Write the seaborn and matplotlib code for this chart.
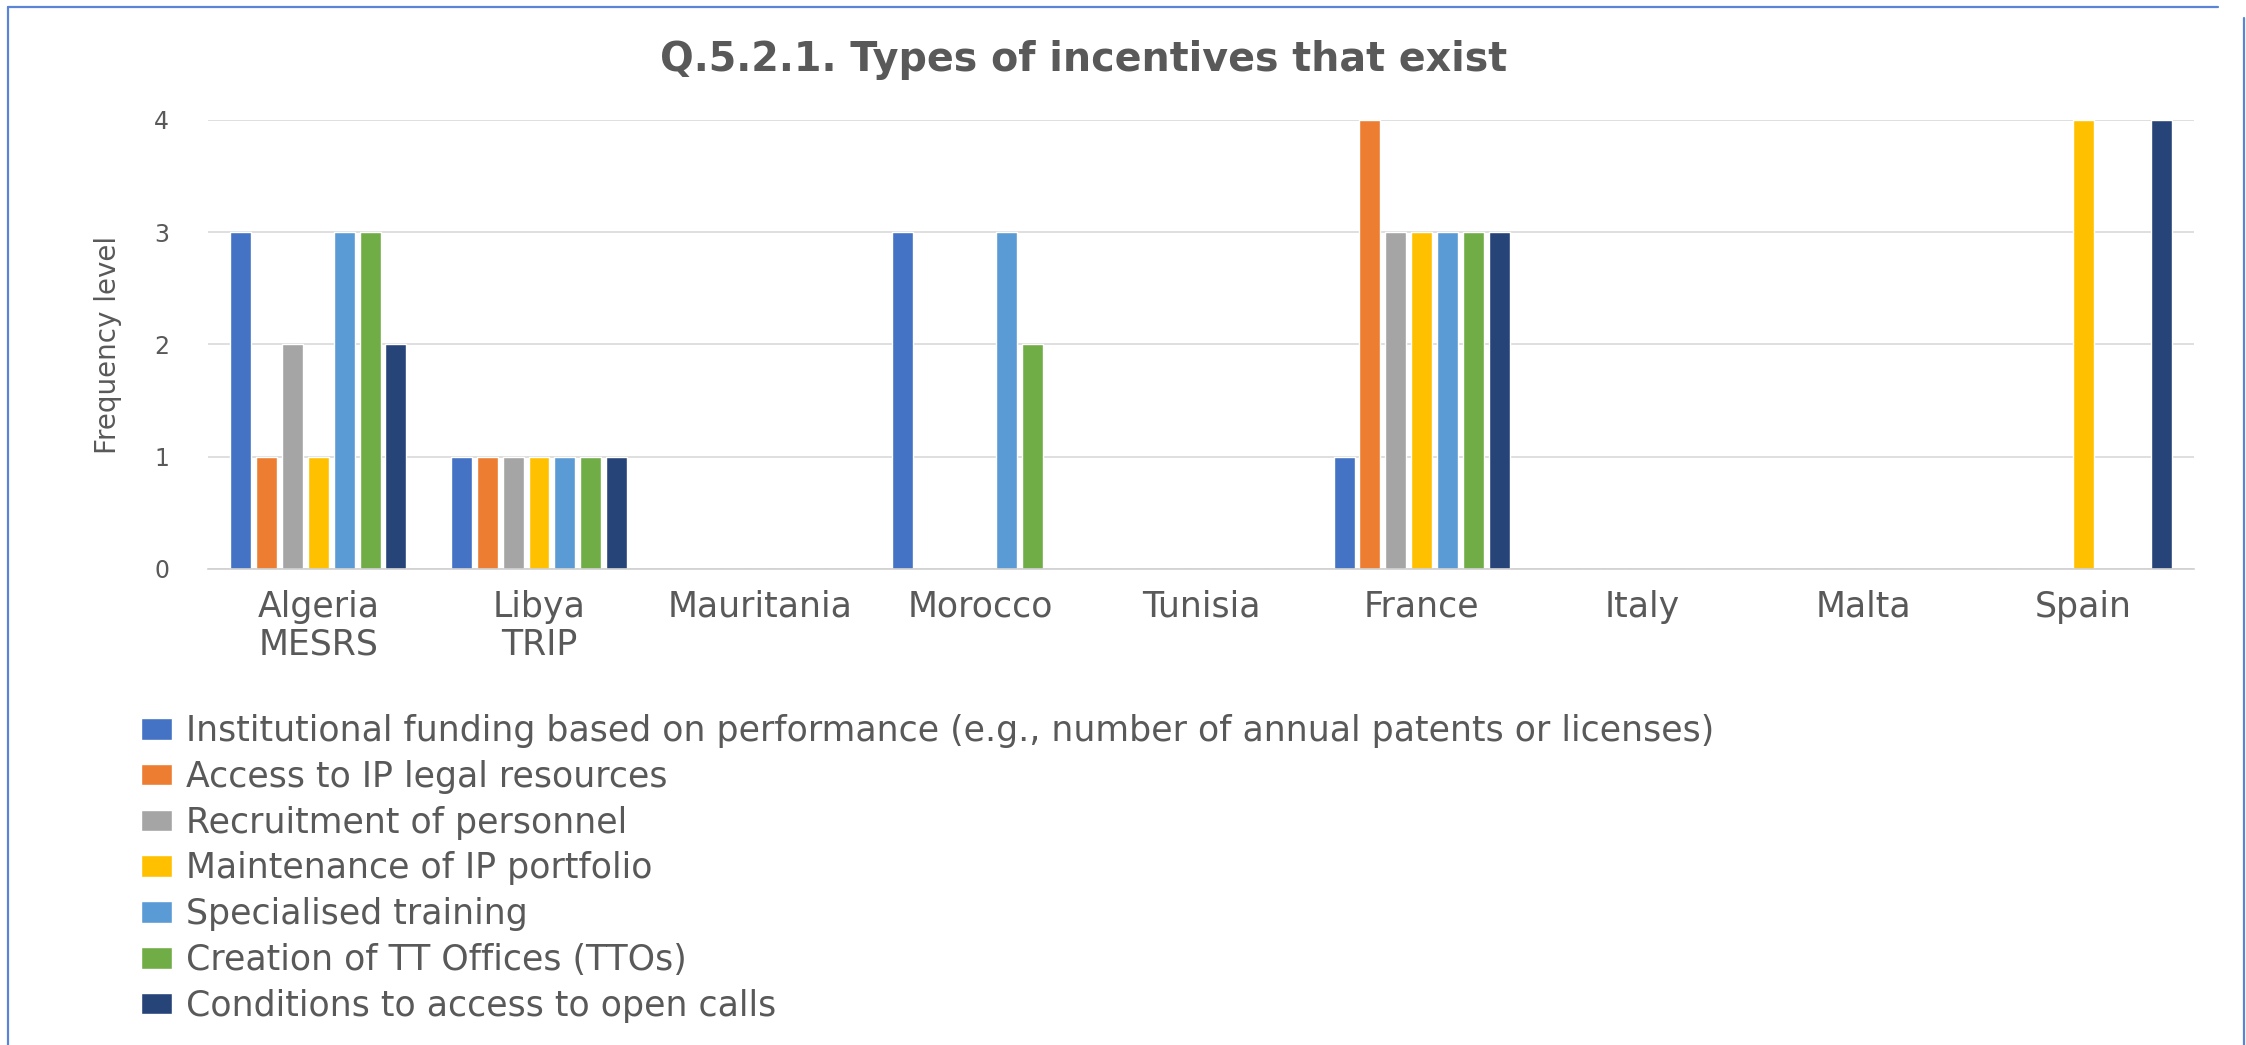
import pandas as pd
import seaborn as sns
import matplotlib.pyplot as plt
from matplotlib.lines import Line2D

# Data
countries = ["Algeria\nMESRS", "Libya\nTRIP", "Mauritania", "Morocco", "Tunisia",
             "France", "Italy", "Malta", "Spain"]
incentives = [
    "Institutional funding based on performance (e.g., number of annual patents or licenses)",
    "Access to IP legal resources",
    "Recruitment of personnel",
    "Maintenance of IP portfolio",
    "Specialised training",
    "Creation of TT Offices (TTOs)",
    "Conditions to access to open calls",
]
funding = [3, 1, 0, 3, 0, 1, 0, 0, 0]
ip_legal = [1, 1, 0, 0, 0, 4, 0, 0, 0]
recruitment = [2, 1, 0, 0, 0, 3, 0, 0, 0]
maintenance = [1, 1, 0, 0, 0, 3, 0, 0, 4]
training = [3, 1, 0, 3, 0, 3, 0, 0, 0]
ttos = [3, 1, 0, 2, 0, 3, 0, 0, 0]
open_calls = [2, 1, 0, 0, 0, 3, 0, 0, 4]
colors = ["#4472C4", "#ED7D31", "#A5A5A5", "#FFC000", "#5B9BD5", "#70AD47", "#264478"]

series = [funding, ip_legal, recruitment, maintenance, training, ttos, open_calls]
rows = []
for name, vals in zip(incentives, series):
    for c, v in zip(countries, vals):
        rows.append({"country": c, "incentive": name, "level": v})
df = pd.DataFrame(rows)

sns.set_style("white")
plt.rcParams["font.family"] = ["DejaVu Sans"]
gray = "#595959"

W, H = 2246, 1045
fig = plt.figure(figsize=(W / 100, H / 100), dpi=100)
ax = fig.add_axes([208 / W, 1 - 569 / H, (2194 - 208) / W, (569 - 120) / H])

sns.barplot(data=df, x="country", y="level", hue="incentive", order=countries,
            hue_order=incentives, palette=colors, saturation=1, width=0.82,
            gap=0.19, ax=ax)

ax.set_ylim(0, 4)
ax.set_yticks([0, 1, 2, 3, 4])
ax.yaxis.grid(True, color="#d9d9d9", linewidth=1.2)
ax.set_axisbelow(True)
for s in ["top", "right", "left"]:
    ax.spines[s].set_visible(False)
ax.spines["bottom"].set_color("#d0d0d0")
ax.spines["bottom"].set_linewidth(1.2)
ax.tick_params(axis="y", length=0, pad=28, labelsize=17, labelcolor=gray)
ax.tick_params(axis="x", length=0, pad=15, labelsize=25, labelcolor=gray)
for t in ax.get_xticklabels():
    t.set_linespacing(1.15)

ax.set_xlabel("")
ax.set_ylabel("Frequency level", fontsize=20, color=gray)
ax.yaxis.set_label_coords(-0.0433, 0.5)

fig.text(1084 / W, 1 - 60 / H, "Q.5.2.1. Types of incentives that exist",
         ha="center", va="center", fontsize=28.5, fontweight="bold", color=gray)

sns.move_legend(ax, "upper left", bbox_to_anchor=(141 / W, 1 - 714 / H),
                bbox_transform=fig.transFigure, frameon=False, title=None,
                fontsize=25, handlelength=0.9, handleheight=0.58,
                handletextpad=0.4, labelspacing=0.34, borderpad=0,
                borderaxespad=0)
for t in ax.get_legend().get_texts():
    t.set_color(gray)

# blue frame around the chart
blue = "#5b84d6"
fig.add_artist(Line2D([8 / W, 2218 / W], [1 - 7 / H, 1 - 7 / H], color=blue, lw=1.6))
fig.add_artist(Line2D([8 / W, 8 / W], [1 - 7 / H, 0], color=blue, lw=1.6))
fig.add_artist(Line2D([2244 / W, 2244 / W], [1 - 18 / H, 0], color=blue, lw=1.6))

fig.savefig("out.png", dpi=100)
